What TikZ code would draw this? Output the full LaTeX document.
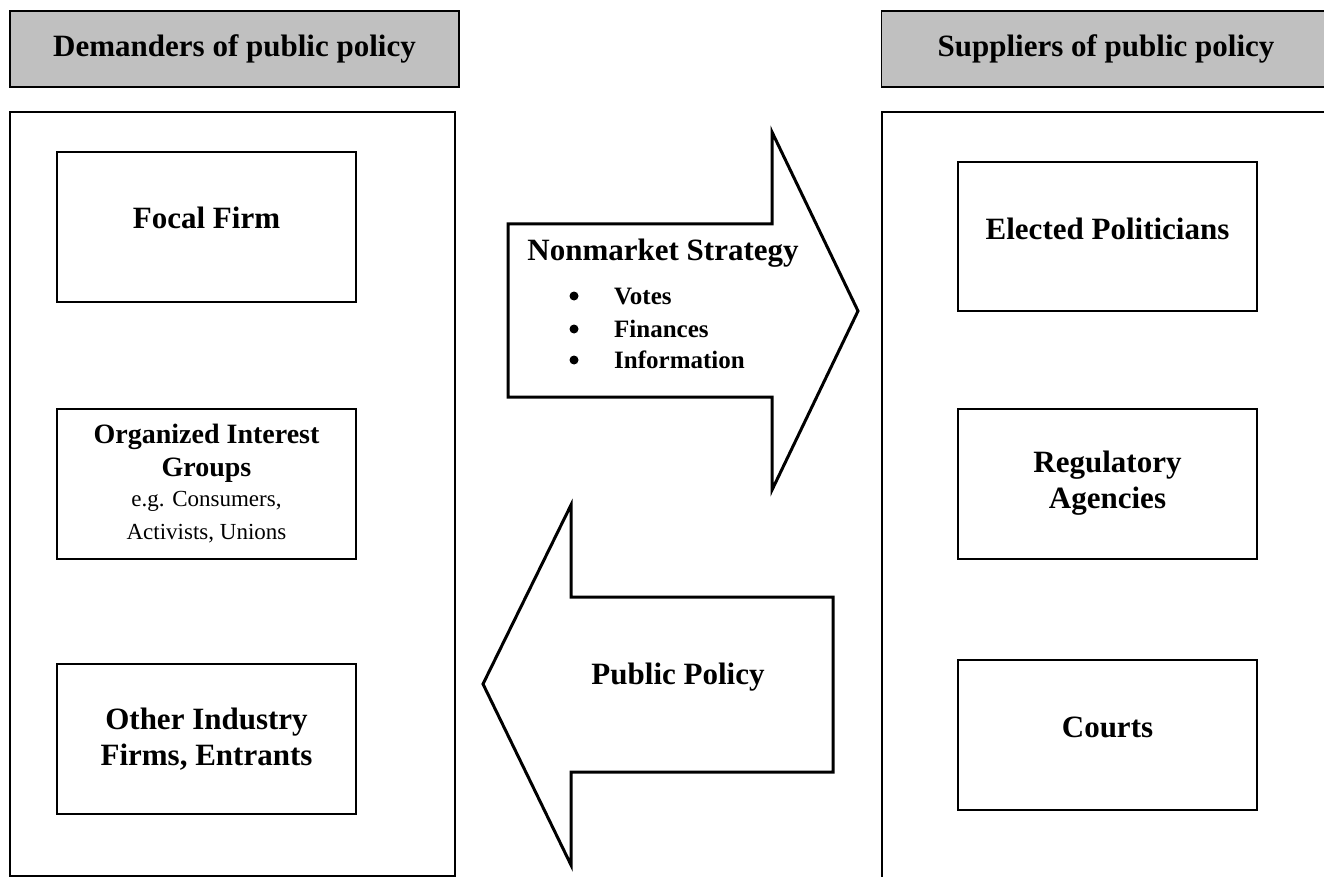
\documentclass[tikz,border=0pt]{standalone}
\usepackage{fontspec}
\setmainfont{Liberation Serif}
\usetikzlibrary{positioning}

\definecolor{headgray}{RGB}{192,192,192}

\tikzset{
  head/.style={draw, line width=1.5pt, fill=headgray, minimum width=449pt, minimum height=76pt,
    font=\fontsize{31}{36}\selectfont\bfseries},
  frame/.style={draw, line width=1.5pt},
  actor/.style={draw, line width=2pt, minimum width=299pt, minimum height=150pt, align=center,
    font=\fontsize{31}{36}\selectfont\bfseries},
  flow/.style={draw, line width=3pt, fill=white, line join=miter},
  big/.style={font=\fontsize{31}{36}\selectfont\bfseries},
  item/.style={anchor=base west, inner sep=0pt, font=\fontsize{25}{30}\selectfont\bfseries},
}

\begin{document}
\begin{tikzpicture}[x=1pt, y=-1pt]
    \useasboundingbox (0,0) rectangle (1324,877);
    \clip (0,0) rectangle (1324,877);

    % Encabezados
    \node[head] (demanders) at (234.5,49) {Demanders of public policy};
    \node[head] (suppliers) at (1106,49) {Suppliers of public policy};

    % Marcos
    \draw[frame] (10,112) rectangle (455,876); % demandantes
    \draw[frame] (882,112) rectangle (1340,900); % oferentes

    % Demandantes
    \node[actor] (focal) at (206.5,227) {\raisebox{18pt}{Focal Firm}};
    \node[actor, font=\fontsize{28}{33}\selectfont\bfseries] (groups) at (206.5,483.5)
      {Organized Interest\\ Groups\\[-3pt]
       {\fontsize{23}{28}\selectfont\mdseries e.g. Consumers,}\\
       {\fontsize{23}{28}\selectfont\mdseries Activists, Unions}};
    \node[actor] (industry) at (206.5,739) {Other Industry\\ Firms, Entrants};

    % Oferentes
    \node[actor, minimum height=149pt] (politicians) at (1107.5,236.5) {\raisebox{16pt}{Elected Politicians}};
    \node[actor] (agencies) at (1107.5,483.5) {Regulatory\\ Agencies};
    \node[actor] (courts) at (1107.5,735) {\raisebox{16pt}{Courts}};

    % Flecha de estrategia
    \draw[flow] (508,224) -- (772,224) -- (772,132) -- (858,311) -- (772,490) -- (772,397) -- (508,397) -- cycle;
    \node[big, anchor=base] (strategy) at (663,260) {Nonmarket Strategy};
    \node[item] (votes) at (614,304) {Votes};
    \node[item] (finances) at (614,337) {Finances};
    \node[item] (information) at (614,368) {Information};
    \fill ([xshift=-40pt,yshift=8pt]votes.base west) circle (4.5pt); % vinetas
    \fill ([xshift=-40pt,yshift=8pt]finances.base west) circle (4.5pt);
    \fill ([xshift=-40pt,yshift=8pt]information.base west) circle (4.5pt);

    % Flecha de politica publica
    \draw[flow] (833,597) -- (571,597) -- (571,505) -- (483,684) -- (571,865) -- (571,772) -- (833,772) -- cycle;
    \node[big, anchor=base] (policy) at (678,684) {Public Policy};
\end{tikzpicture}
\end{document}
